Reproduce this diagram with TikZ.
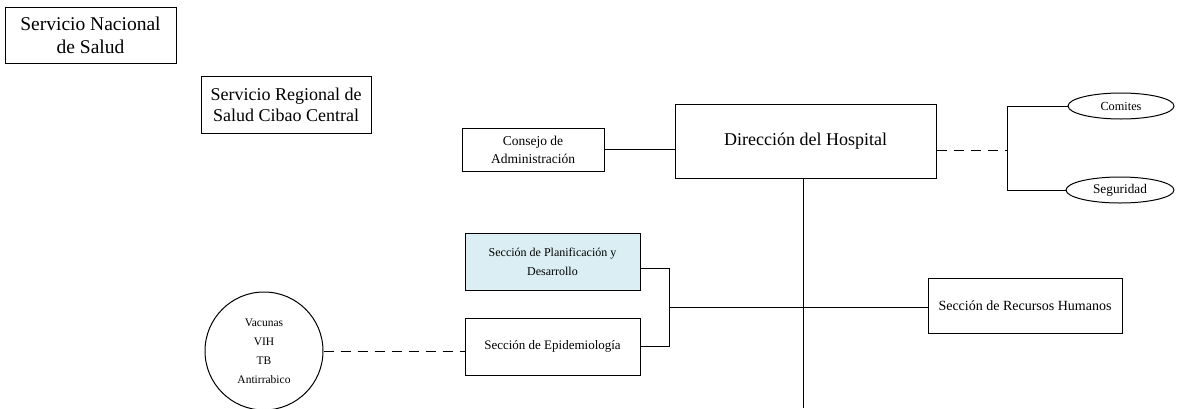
\documentclass[tikz,border=0pt]{standalone}
\usepackage{fontspec}
\setmainfont{Liberation Serif}
\usetikzlibrary{shapes.geometric}
\definecolor{lightblue}{HTML}{DAEEF3}
\begin{document}
\begin{tikzpicture}[x=1pt,y=-1pt,line width=1pt,
  box/.style={draw,rectangle,align=center,inner sep=2pt},
  oval/.style={draw,ellipse,align=center,inner sep=0pt},
  conn/.style={draw,line width=1pt},
  dashconn/.style={draw,line width=1pt,dash pattern=on 10pt off 7pt}]
\useasboundingbox (0,0) rectangle (1177,408);
\node[box,minimum width=171,minimum height=56,font=\fontsize{19.5}{23}\selectfont] (nac) at (90.5,35) {Servicio Nacional\\de Salud};
\node[box,minimum width=170,minimum height=57,font=\fontsize{18}{21}\selectfont] (reg) at (286,104.5) {Servicio Regional de\\Salud Cibao Central};
\node[box,minimum width=142,minimum height=43,font=\fontsize{13.5}{18}\selectfont] (con) at (533,149.5) {Consejo de\\Administración};
\node[box,minimum width=261,minimum height=74,font=\fontsize{18}{22}\selectfont] (dir) at (805.5,141) {Dirección del Hospital};
\node[oval,minimum width=106,minimum height=26,font=\fontsize{12.3}{14}\selectfont] (com) at (1121,106) {Comites};
\node[oval,minimum width=108,minimum height=26,font=\fontsize{13.3}{15}\selectfont] (seg) at (1120,190) {Seguridad};
\node[box,fill=lightblue,minimum width=175,minimum height=57,font=\fontsize{12}{19}\selectfont] (plan) at (552.5,261.5) {Sección de Planificación y\\Desarrollo};
\node[box,minimum width=175,minimum height=57,font=\fontsize{13}{15}\selectfont] (epi) at (552.5,346.5) {Sección de Epidemiología};
\node[box,minimum width=194,minimum height=55,font=\fontsize{14}{16}\selectfont] (rh) at (1025,305.5) {Sección de Recursos Humanos};
\node[draw,circle,minimum size=118,inner sep=0pt,align=center,font=\fontsize{11.5}{19}\selectfont] (vac) at (264,351) {Vacunas\\VIH\\TB\\Antirrabico};
\coordinate (bot) at (803,408);
\coordinate (sp) at (1007,150);
\coordinate (jn) at (669,307);
\draw[conn] (con.east) -- (con.east -| dir.west);
\draw[conn] (dir.south -| bot) -- (bot);
\draw[dashconn] (dir.east |- sp) -- (sp);
\draw[conn] (com.west) -| (sp) |- (seg.west);
\draw[conn] (plan.east |- 0,268) -| (jn) |- (epi.east);
\draw[conn] (jn) -- (jn -| rh.west);
\draw[dashconn] (vac.east) -- (vac.east -| epi.west);
\end{tikzpicture}
\end{document}
